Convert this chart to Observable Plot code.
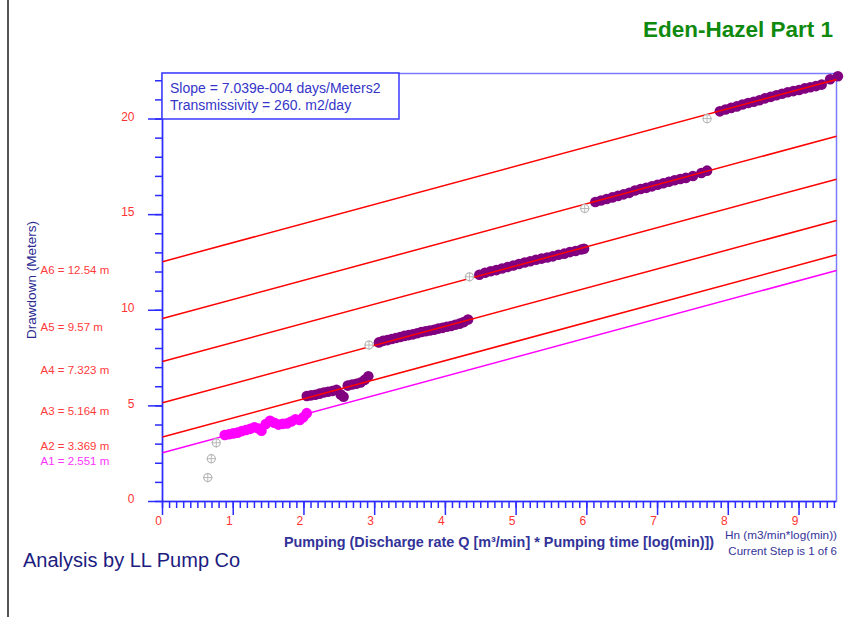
<!DOCTYPE html>
<html><head><meta charset="utf-8">
<script src="https://cdn.jsdelivr.net/npm/d3@7"></script>
<script src="https://cdn.jsdelivr.net/npm/@observablehq/plot@0.6"></script>
<style>body{margin:0;background:#fff;overflow:hidden}</style>
</head><body><div id="chart"></div>
<script>
// ---- data ----
const stepIntercepts = [2.551, 3.369, 5.164, 7.323, 9.57, 12.54];
const stepLabels = ["A1 = 2.551 m","A2 = 3.369 m","A3 = 5.164 m","A4 = 7.323 m","A5 = 9.57 m","A6 = 12.54 m"];
const stepColors = ["#ff00ff","#ff0000","#ff0000","#ff0000","#ff0000","#ff0000"];
const labelColors = ["#ff33ff","#ff3b3b","#ff3b3b","#ff3b3b","#ff3b3b","#ff3b3b"];
const lineSlope = 1.0;   // fitted line slope (m per Hn unit)
const xEnd = 9.53;

const x1 = [0.88,0.94,1.00,1.06,1.12,1.18,1.24,1.30,1.36,1.40,1.46,1.52,1.58,1.64,1.70,1.76,1.82,1.88,1.94,1.99,2.04];
const y1 = [3.48,3.52,3.56,3.60,3.68,3.74,3.80,3.88,3.82,3.70,4.05,4.22,4.12,4.02,4.06,4.08,4.18,4.30,4.26,4.40,4.62];
const x2 = [2.04,2.10,2.16,2.22,2.28,2.34,2.40,2.46,2.52,2.56,2.62,2.68,2.74,2.80,2.86,2.91];
const y2 = [5.52,5.55,5.58,5.64,5.70,5.74,5.78,5.84,5.60,5.48,6.06,6.12,6.16,6.22,6.36,6.55];
const x3 = [3.06,3.12,3.18,3.24,3.30,3.36,3.42,3.48,3.54,3.60,3.66,3.72,3.78,3.84,3.90,3.96,4.02,4.08,4.14,4.20,4.26,4.32];
const y3 = [8.32,8.40,8.44,8.50,8.55,8.60,8.66,8.70,8.74,8.80,8.86,8.90,8.94,8.98,9.04,9.08,9.14,9.18,9.24,9.30,9.38,9.52];
const x4 = [4.48,4.56,4.64,4.72,4.80,4.88,4.96,5.04,5.12,5.20,5.28,5.36,5.44,5.52,5.60,5.68,5.76,5.84,5.92,5.96];
const y4 = [11.86,11.96,12.04,12.10,12.18,12.26,12.34,12.42,12.50,12.56,12.64,12.70,12.76,12.82,12.90,12.96,13.04,13.10,13.18,13.22];
const x5 = [6.12,6.20,6.28,6.36,6.44,6.52,6.60,6.68,6.76,6.84,6.92,7.00,7.08,7.16,7.24,7.32,7.40,7.50,7.62,7.70];
const y5 = [15.66,15.74,15.82,15.90,15.98,16.06,16.14,16.26,16.34,16.40,16.48,16.56,16.64,16.72,16.80,16.86,16.92,17.02,17.18,17.30];
const x6 = [7.88,7.96,8.04,8.12,8.20,8.28,8.36,8.44,8.52,8.60,8.68,8.76,8.84,8.92,9.00,9.08,9.16,9.24,9.32,9.44,9.55];
const y6 = [20.40,20.50,20.58,20.66,20.76,20.84,20.90,20.98,21.08,21.16,21.24,21.32,21.40,21.46,21.52,21.60,21.66,21.72,21.80,22.08,22.24];
const xExcluded = [0.64,0.69,0.76,2.92,4.34,5.97,7.70];
const yExcluded = [1.25,2.24,3.07,8.18,11.75,15.32,20.02];

const xMajorTicks = [0,1,2,3,4,5,6,7,8,9];
const yMajorTicks = [0,5,10,15,20];

// ---- build tables ----
const segX = [x1,x2,x3,x4,x5,x6], segY = [y1,y2,y3,y4,y5,y6];
const points = [];
segX.forEach((xs,s)=>xs.forEach((x,i)=>points.push({x, y: segY[s][i], step: s})));
const excluded = xExcluded.map((x,i)=>({x, y: yExcluded[i]}));
const lines = stepIntercepts.map((a,i)=>({x1:0, y1:a, x2:xEnd, y2:a+lineSlope*xEnd, c: stepColors[i], lab: stepLabels[i], lc: labelColors[i]}));
const xMinor = d3.range(0, 96).map(i=>i/10).filter(v=>v<=xEnd);
const yMinor = d3.range(0, 23);

const font = "'Liberation Sans', Arial, Helvetica, sans-serif";
const axisBlue = "#2b2bff";

const chart = Plot.plot({
  width: 862, height: 617,
  marginLeft: 162, marginRight: 26, marginTop: 73, marginBottom: 116,
  style: {fontFamily: font, background: "white", overflow: "visible"},
  x: {domain: [0, xEnd]},
  y: {domain: [0, 22.38]},
  marks: [
    Plot.frame({stroke: "#7b7bff", strokeWidth: 1.5}),
    Plot.ruleX([0], {stroke: axisBlue, strokeWidth: 1.5}),
    Plot.ruleY([0], {stroke: axisBlue, strokeWidth: 1.5}),
    Plot.axisX({ticks: xMinor, tickSize: 7, text: null, stroke: axisBlue, strokeWidth: 1.5, label: null}),
    Plot.axisX({ticks: xMajorTicks, tickSize: 14, text: null, stroke: axisBlue, strokeWidth: 1.5, label: null}),
    Plot.axisX({ticks: xMajorTicks, tickSize: 0, tickPadding: 15, fill: "#ff3333", fontSize: 12, dx: -4, tickFormat: d=>String(d), label: null}),
    Plot.axisY({ticks: yMinor, tickSize: 7, text: null, stroke: axisBlue, strokeWidth: 1.5, label: null}),
    Plot.axisY({ticks: yMajorTicks, tickSize: 14, text: null, stroke: axisBlue, strokeWidth: 1.5, label: null}),
    Plot.axisY({ticks: yMajorTicks, tickSize: 0, tickPadding: 28, fill: "#ff3333", fontSize: 12, dy: -2, tickFormat: d=>String(d), label: null}),
    Plot.dot(points, {x: "x", y: "y", r: 5.3, fill: d=>d.step===0 ? "#ff00ff" : "#800080", stroke: "none", clip: false}),
    Plot.link(lines, {x1: "x1", y1: "y1", x2: "x2", y2: "y2", stroke: "c", strokeWidth: 1.5}),
    Plot.dot(excluded, {x: "x", y: "y", r: 4, stroke: "#b8b8b8", strokeWidth: 1.2, fill: "white"}),
    Plot.dot(excluded, {x: "x", y: "y", r: 3.2, symbol: "plus", stroke: "#b8b8b8", strokeWidth: 1}),
    Plot.text(lines, {frameAnchor: "left", y: "y1", text: "lab", fill: "lc", dx: -122, dy: 9, textAnchor: "start", fontSize: 11.5})
  ]
});
document.getElementById("chart").appendChild(chart);

// ---- annotations ----
const svg = d3.select(chart);
svg.append("line").attr("x1", 8).attr("x2", 8).attr("y1", 0).attr("y2", 617).attr("stroke", "#555").attr("stroke-width", 2);
svg.append("rect").attr("x", 162).attr("y", 73).attr("width", 237).attr("height", 46)
  .attr("fill", "white").attr("stroke", "#3a3aff").attr("stroke-width", 1.5);
const txt = (x, y, s, o={}) => svg.append("text").attr("x", x).attr("y", y).text(s)
  .attr("font-family", font).attr("font-size", o.size || 12).attr("fill", o.fill || "#000")
  .attr("font-weight", o.weight || "normal").attr("text-anchor", o.anchor || "start");
txt(170, 93, "Slope = 7.039e-004 days/Meters2", {size: 14, fill: "#3535c8"});
txt(170, 110, "Transmissivity = 260. m2/day", {size: 14, fill: "#3535c8"});
txt(738, 37, "Eden-Hazel Part 1", {size: 22.5, weight: "bold", fill: "#0f8a0f", anchor: "middle"});
txt(23, 567, "Analysis by LL Pump Co", {size: 20, fill: "#1c1c80"});
txt(499, 547, "Pumping (Discharge rate Q [m\u00B3/min] * Pumping time [log(min)])", {size: 14.4, weight: "bold", fill: "#333399", anchor: "middle"});
txt(837, 539, "Hn (m3/min*log(min))", {size: 11.8, fill: "#333399", anchor: "end"});
txt(837, 555, "Current Step is 1 of 6", {size: 11.5, fill: "#333399", anchor: "end"});
svg.append("text").attr("transform", "translate(36,280) rotate(-90)").attr("text-anchor", "middle")
  .attr("font-family", font).attr("font-size", 13.5).attr("fill", "#2a2a90").text("Drawdown (Meters)");
</script>
</body></html>
